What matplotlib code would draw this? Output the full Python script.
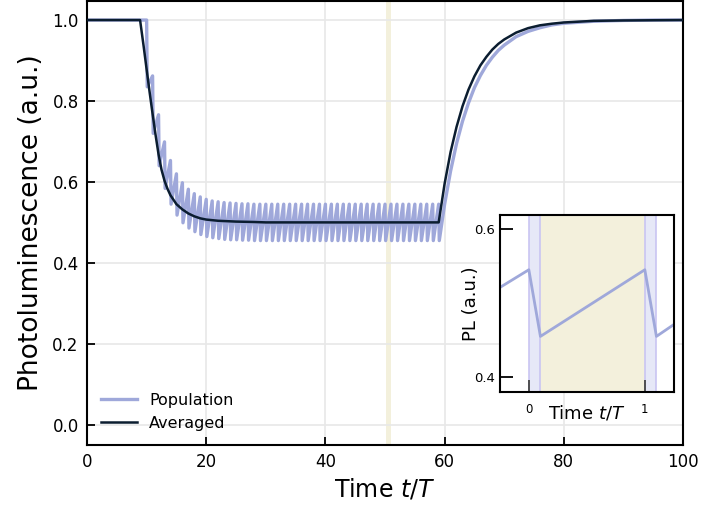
import matplotlib
matplotlib.use("Agg")
import matplotlib.pyplot as plt

# --- data ---
# population: one pulse per period, peak at t = pulse start, trough 0.1 later
pulse_t = list(range(10, 60))
peaks = [1.000, 0.862, 0.766, 0.699, 0.653, 0.620, 0.598, 0.582, 0.571, 0.563,
         0.557, 0.553, 0.551, 0.549, 0.548, 0.547, 0.546, 0.546, 0.545, 0.545,
         0.545, 0.545, 0.545, 0.545, 0.545, 0.545, 0.545, 0.545, 0.545, 0.545,
         0.545, 0.545, 0.545, 0.545, 0.545, 0.545, 0.545, 0.545, 0.545, 0.545,
         0.545, 0.545, 0.545, 0.545, 0.545, 0.545, 0.545, 0.545, 0.545, 0.545]
troughs = [0.835, 0.720, 0.640, 0.584, 0.545, 0.518, 0.499, 0.486, 0.477, 0.470,
           0.465, 0.462, 0.460, 0.458, 0.457, 0.457, 0.456, 0.456, 0.455, 0.455,
           0.455, 0.455, 0.455, 0.455, 0.455, 0.455, 0.455, 0.455, 0.455, 0.455,
           0.455, 0.455, 0.455, 0.455, 0.455, 0.455, 0.455, 0.455, 0.455, 0.455,
           0.455, 0.455, 0.455, 0.455, 0.455, 0.455, 0.455, 0.455, 0.455, 0.455]
PULSE_W = 0.1

# recovery of the population after the last pulse
rise_t = [60, 61, 62, 63, 64, 65, 66, 67, 68, 69, 70, 72, 74, 76, 78, 80, 85, 90, 95, 100]
rise_v = [0.545, 0.627, 0.695, 0.750, 0.795, 0.833, 0.863, 0.888, 0.908, 0.925,
          0.938, 0.959, 0.972, 0.981, 0.988, 0.992, 0.997, 0.999, 1.000, 1.000]

# averaged curve
avg_t = [0, 8.9, 9.5, 10.0, 10.5, 11.0, 11.5, 12.0, 12.5, 13.0, 13.5, 14.0, 15.0,
         16.0, 17.0, 18.0, 19.0, 20.0, 22.0, 25.0, 28.0, 30.0, 59.0,
         60, 61, 62, 63, 64, 65, 66, 67, 68, 69, 70, 72, 74, 76, 78, 80, 85, 90, 100]
avg_v = [1.000, 1.000, 0.935, 0.878, 0.822, 0.768, 0.716, 0.668, 0.630, 0.603, 0.583,
         0.567, 0.545, 0.532, 0.522, 0.515, 0.510, 0.507, 0.504, 0.502, 0.501, 0.500,
         0.500, 0.596, 0.674, 0.736, 0.787, 0.828, 0.861, 0.888, 0.909, 0.927, 0.941,
         0.952, 0.969, 0.980, 0.987, 0.991, 0.994, 0.998, 0.999, 1.000]

# inset: one steady-state period
ins_t = [-0.25, 0.0, 0.1, 1.0, 1.1, 1.25]
ins_v = [0.521, 0.545, 0.455, 0.545, 0.455, 0.471]

C_POP = "#9fa8da"
C_AVG = "#0b1d30"
C_YEL = "#f3f0dc"
C_BLU = "#e6e8f7"
C_BLU_EDGE = "#c9c5f2"

# build the sawtooth polyline
pop_x, pop_y = [0.0], [1.0]
for t, p, q in zip(pulse_t, peaks, troughs):
    pop_x += [t, t + PULSE_W]
    pop_y += [p, q]
pop_x += rise_t
pop_y += rise_v

fig = plt.figure(figsize=(7.03, 5.13), dpi=100)
ax = fig.add_axes([0.1238, 0.1326, 0.8478, 0.8654])

ax.axvspan(50.1, 51.0, color=C_YEL, lw=0, zorder=0)
ax.plot(pop_x, pop_y, color=C_POP, lw=2.4, label="Population", zorder=2)
ax.plot(avg_t, avg_v, color=C_AVG, lw=1.8, label="Averaged", zorder=3)

ax.set_xlim(0, 100)
ax.set_ylim(-0.05, 1.047)
ax.set_xticks([0, 20, 40, 60, 80, 100])
ax.set_yticks([0.0, 0.2, 0.4, 0.6, 0.8, 1.0])
ax.grid(True, color="#e8e8e8", lw=1.2)
ax.set_axisbelow(True)
ax.tick_params(direction="in", length=6, width=1.3, labelsize=12, pad=6)
for s in ax.spines.values():
    s.set_linewidth(1.5)
ax.set_xlabel("Time $t/T$", fontsize=17, labelpad=4)
ax.set_ylabel("Photoluminescence (a.u.)", fontsize=19, labelpad=6)
ax.legend(loc="lower left", frameon=False, fontsize=11.5, handlelength=2.2)

# --- inset ---
ins = fig.add_axes([0.711, 0.236, 0.2475, 0.345])
ins.axvspan(0.1, 1.0, color=C_YEL, lw=0, zorder=0)
for a in (0.0, 1.0):
    ins.axvspan(a, a + PULSE_W, facecolor=C_BLU, edgecolor=C_BLU_EDGE, lw=1.2, zorder=0)
ins.plot(ins_t, ins_v, color=C_POP, lw=2.0, zorder=2)
ins.set_xlim(-0.25, 1.25)
ins.set_ylim(0.38, 0.619)
ins.set_xticks([0, 1])
ins.set_yticks([0.4, 0.6])
ins.tick_params(axis="y", direction="in", length=9, width=1.3, labelsize=9.5)
ins.tick_params(axis="x", direction="in", length=9, width=1.3, labelsize=8.5,
                color="#444444", pad=8)
for s in ins.spines.values():
    s.set_linewidth(1.5)
ins.set_xlabel("Time $t/T$", fontsize=13, labelpad=-9)
ins.set_ylabel("PL (a.u.)", fontsize=13, labelpad=-4)

fig.savefig("out.png", dpi=100)
